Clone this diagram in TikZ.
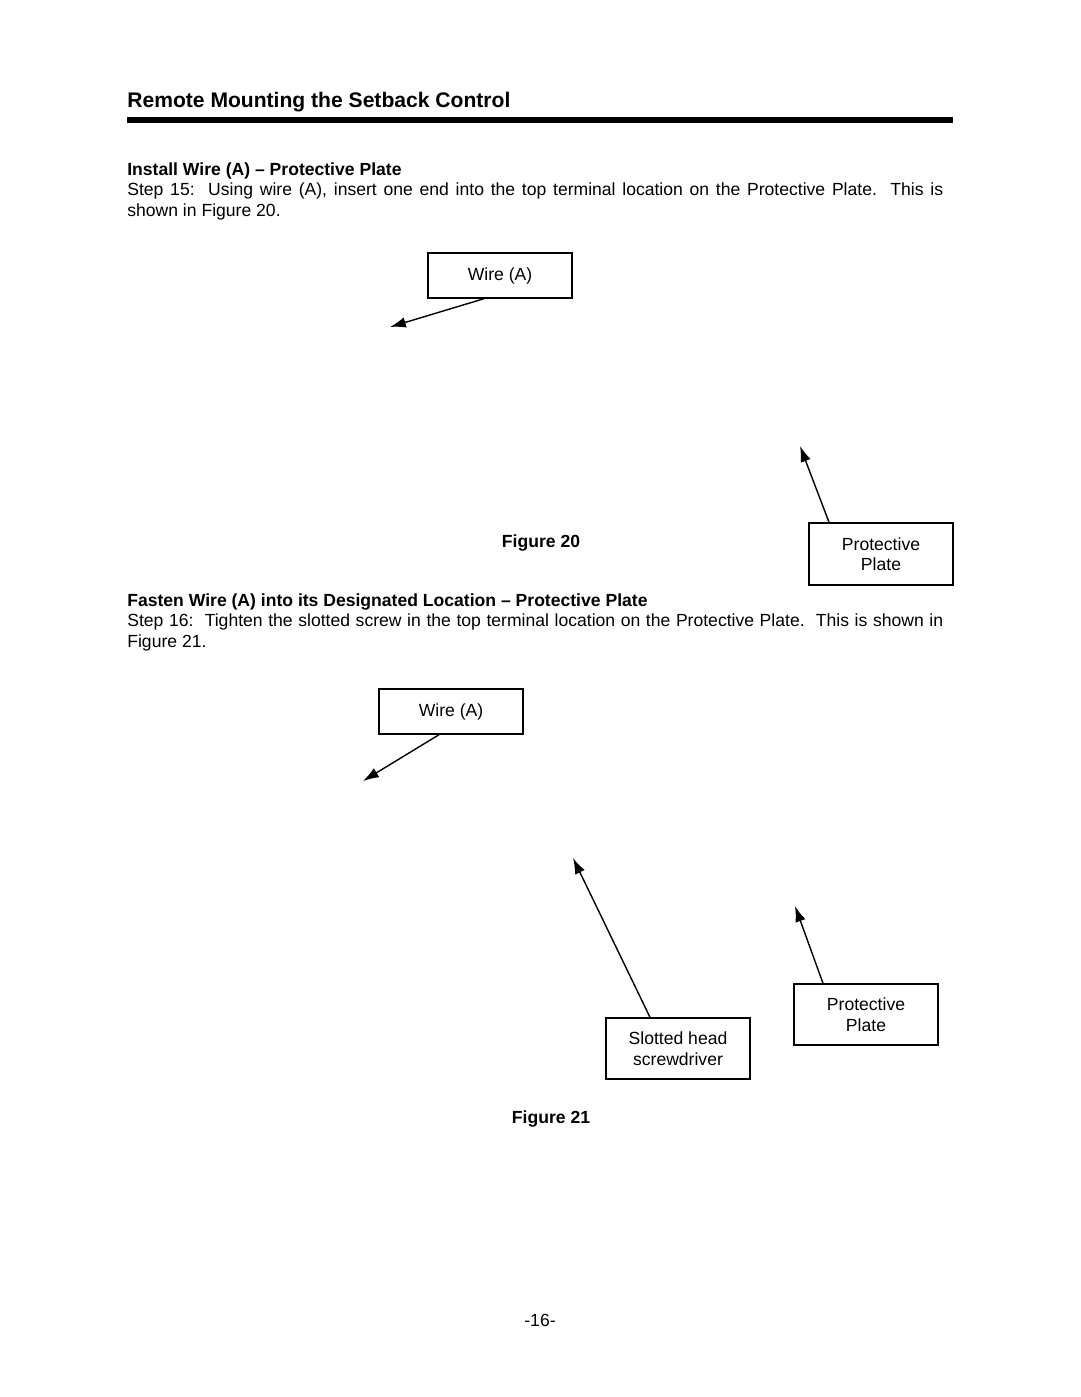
\documentclass[tikz,border=0pt]{standalone}
\usepackage{fontspec}
\setmainfont{Liberation Sans}
\usetikzlibrary{arrows.meta}
\tikzstyle{callout}=[draw,line width=0.8pt,minimum width=2.88cm,align=center,inner sep=0pt,font=\fontsize{10}{11.7}\selectfont]
\tikzstyle{pointer}=[draw,line width=0.8pt,-{Latex[length=9pt,width=6pt]}]
\tikzstyle{steptext}=[anchor=north west,text width=16.32cm,align=justify,inner sep=0pt,font=\fontsize{10}{11.7}\selectfont]
\tikzstyle{figlabel}=[inner sep=0pt,font=\fontsize{10}{12}\selectfont\bfseries]

\begin{document}
\begin{tikzpicture}[x=0.02cm,y=-0.02cm]
	\useasboundingbox (0,0) rectangle (1080,1397);

	% page heading and rule
	\node[anchor=base west,inner sep=0pt,font=\fontsize{12}{14}\selectfont\bfseries] (title) at (127,107) {Remote Mounting the Setback Control};
	\fill (127,117) rectangle (953,123);

	% step 15
	\node[steptext] (step15) at (127,162) {{\bfseries Install Wire (A) -- Protective Plate}\\
		Step 15:\ \ Using wire (A), insert one end into the top terminal location on the Protective Plate.\ \ This is\linebreak shown in Figure 20.};

	\node[callout,minimum height=0.9cm] (wire1) at (500,275.5) {Wire (A)};
	\node[callout,minimum height=1.24cm] (plate1) at (881,554) {Protective\\Plate};
	\coordinate (tip1) at (390,327);
	\coordinate (tip2) at (800,446);
	\path[pointer] ([xshift=-0.32cm]wire1.south) -- (tip1);
	\path[pointer] ([xshift=-1.04cm]plate1.north) -- (tip2);
	\node[figlabel] (fig20) at (541,543) {Figure 20};

	% step 16
	\node[steptext] (step16) at (127,593) {{\bfseries Fasten Wire (A) into its Designated Location -- Protective Plate}\\
		Step 16:\ \ Tighten the slotted screw in the top terminal location on the Protective Plate.\ \ This is shown in Figure 21.};

	\node[callout,minimum height=0.9cm] (wire2) at (451,711.5) {Wire (A)};
	\node[callout,minimum height=1.22cm] (driver) at (678,1048.5) {Slotted head\\screwdriver};
	\node[callout,minimum height=1.22cm] (plate2) at (866,1014.5) {Protective\\Plate};
	\coordinate (tip3) at (363,781);
	\coordinate (tip4) at (573,858);
	\coordinate (tip5) at (795,906);
	\path[pointer] ([xshift=-0.24cm]wire2.south) -- (tip3);
	\path[pointer] ([xshift=-0.56cm]driver.north) -- (tip4);
	\path[pointer] ([xshift=-0.86cm]plate2.north) -- (tip5);
	\node[figlabel] (fig21) at (551,1119) {Figure 21};

	% page number
	\node[inner sep=0pt,font=\fontsize{10}{12}\selectfont] (pagenum) at (540,1320) {-16-};
\end{tikzpicture}
\end{document}
